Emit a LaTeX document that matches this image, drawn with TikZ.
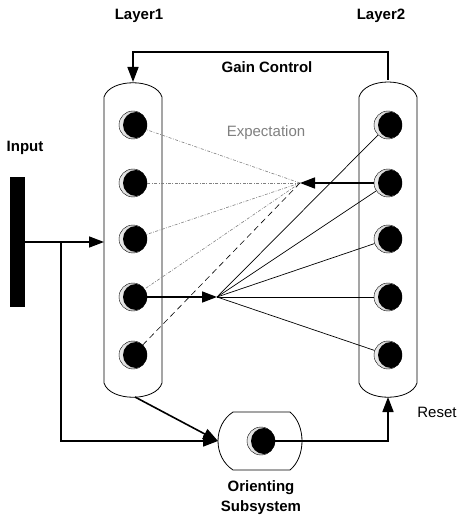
\documentclass[tikz,border=0pt]{standalone}
\usepackage{fontspec}
\setmainfont{Liberation Sans}
\usetikzlibrary{arrows.meta}

\begin{document}
\begin{tikzpicture}[x=1pt, y=-1pt,
    neuron/.style={circle, draw, inner sep=0pt, minimum size=28pt, left color=gray!15, right color=gray!60,
      path picture={\fill[black] ([xshift=3pt]path picture bounding box.center) circle (13pt);}},
    arr/.style={-{Triangle[length=15pt,width=11pt]}, line width=1.6pt},
    lbl/.style={font=\fontsize{15}{20}\selectfont\bfseries},
    expect/.style={gray, line width=0.6pt, dash pattern=on 3pt off 1.5pt on 0.8pt off 1.5pt}]
  \useasboundingbox (0,0) rectangle (460,518);

  \draw[line width=0.8pt] (104,97) -- (104,383) .. controls (110,402) and (156,402) .. (162,383)
    -- (162,97) .. controls (156,78) and (110,78) .. (104,97);
  \draw[line width=0.8pt] (359,97) -- (359,383) .. controls (365,402) and (411,402) .. (417,383)
    -- (417,97) .. controls (411,77) and (365,77) .. (359,97);
  \draw[line width=0.8pt] (233,412) -- (290,412) .. controls (306,425) and (306,457) .. (290,470)
    -- (233,470) .. controls (213,457) and (213,425) .. (233,412);

  \foreach \i/\y in {1/125,2/183,3/239,4/297,5/355} {
    \node[neuron] (l\i) at (133,\y) {};
    \node[neuron] (r\i) at (388,\y) {};
  }
  \node[neuron] (o) at (261,441) {};
  \node[fill=black, minimum width=15pt, minimum height=129pt, inner sep=0pt] (bar) at (17.5,242) {};

  \coordinate (e) at (300,183);
  \coordinate (f) at (217,297);
  \coordinate (l1top) at (133,82);
  \coordinate (r1top) at (388,80);
  \coordinate (l1in) at (104,242);
  \coordinate (split) at (61,242);
  \coordinate (l1bot) at (135,397);
  \coordinate (obox) at (218,441);
  \coordinate (r5bot) at (388,397);

  \foreach \i in {1,...,4} \draw[expect] (e) -- (l\i);
  \draw[line width=0.6pt, dash pattern=on 6pt off 4pt] (e) -- (l5);
  \foreach \i in {1,...,5} \draw[line width=0.7pt] (f) -- (r\i);
  \draw[arr] (r2) -- (e);
  \draw[arr] (l4) -- (f);

  \draw[arr] (r1top) -- ++(0,-28) -| (l1top);
  \draw[arr] (bar.east) -- (l1in);
  \draw[arr] (split) |- (obox);
  \draw[arr] (l1bot) -- (obox);
  \draw[arr] (o) -| (r5bot);

  \node[lbl] (layer1) at (139,16) {Layer1};
  \node[lbl] (layer2) at (381,16) {Layer2};
  \node[lbl] (input) at (25,148) {Input};
  \node[lbl] (gain) at (267,67) {Gain Control};
  \node[gray, font=\fontsize{15}{20}\selectfont] (expectation) at (266,133) {Expectation};
  \node[font=\fontsize{15}{20}\selectfont] (reset) at (437,412) {Reset};
  \node[lbl, align=center] (orienting) at (261,498) {Orienting\\Subsystem};
\end{tikzpicture}
\end{document}
